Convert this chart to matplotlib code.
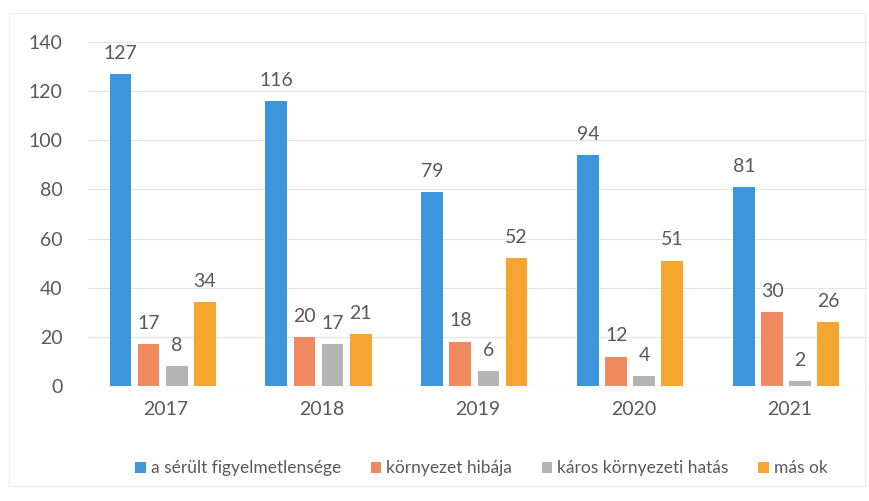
import matplotlib.pyplot as plt
import numpy as np

plt.rcParams['font.family'] = ['Lato', 'DejaVu Sans']

years = ['2017', '2018', '2019', '2020', '2021']
series_names = ['a sérült figyelmetlensége', 'környezet hibája',
                'káros környezeti hatás', 'más ok']
serult = [127, 116, 79, 94, 81]
kornyezet = [17, 20, 18, 12, 30]
karos = [8, 17, 6, 4, 2]
mas_ok = [34, 21, 52, 51, 26]
yticks = [0, 20, 40, 60, 80, 100, 120, 140]

colors = ['#3d95dc', '#ef8a5e', '#b4b4b4', '#f4a630']
text_col = '#595959'

fig = plt.figure(figsize=(8.69, 5.01), dpi=100)
ax = fig.add_axes([0.101, 0.2295, 0.897, 0.687])

x = np.arange(len(years))
w = 0.14
pitch = 0.18
offsets = [-1.5, -0.5, 0.5, 1.5]
for k, vals in enumerate([serult, kornyezet, karos, mas_ok]):
    bars = ax.bar(x + offsets[k] * pitch - 0.02, vals, w, color=colors[k],
                  label=series_names[k], zorder=3)
    for b, v in zip(bars, vals):
        ax.text(b.get_x() + b.get_width() / 2, v + 5, str(v),
                ha='center', va='bottom', fontsize=14, color=text_col)

ax.set_xlim(-0.5, 4.5)
ax.set_ylim(0, 140)
ax.set_yticks(yticks)
ax.set_xticks(x)
ax.set_xticklabels(years)
ax.tick_params(axis='both', length=0, labelsize=14, labelcolor=text_col)
ax.tick_params(axis='x', pad=11)
ax.tick_params(axis='y', pad=18)
ax.grid(axis='y', color='#e4e4e4', linewidth=0.9, zorder=0)
for s in ax.spines.values():
    s.set_visible(False)

ax.legend(loc='upper center', bbox_to_anchor=(0.505, -0.17), ncol=4,
          frameon=False, fontsize=12.5, handlelength=0.6, handleheight=0.6,
          handletextpad=0.3, columnspacing=1.7, labelcolor=text_col)

fig.patches.append(plt.Rectangle((0.01, 0.03), 0.985, 0.945, transform=fig.transFigure,
                                 fill=False, edgecolor='#ececec', linewidth=0.8))

fig.savefig('out.png', dpi=100)
